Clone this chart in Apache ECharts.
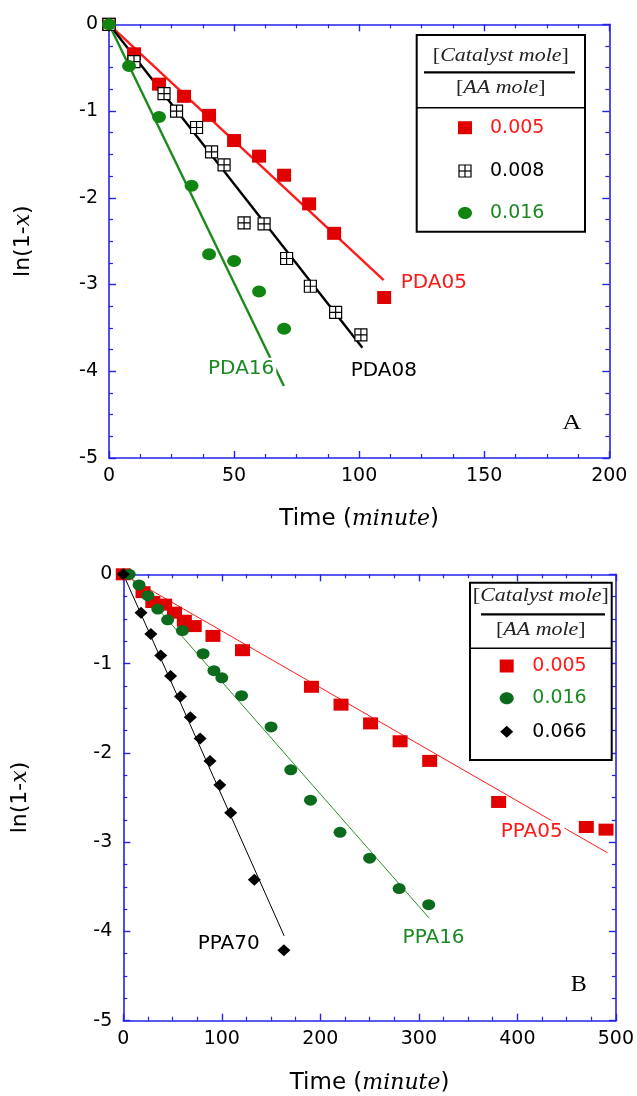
<!DOCTYPE html>
<html>
<head>
<meta charset="utf-8">
<script src="https://cdn.jsdelivr.net/npm/echarts@6/dist/echarts.min.js"></script>
<style>
  html, body { margin: 0; padding: 0; background: #ffffff; }
  #chart { width: 637px; height: 1096px; }
</style>
</head>
<body>
<div id="chart"></div>
<script>
// ---------- Panel A: poly(DA) runs, ln(1-x) against time (min) ----------
const timeA05 = [0, 10, 20, 30, 40, 50, 60, 70, 80, 90, 110];
const lnA05   = [0, -0.34, -0.69, -0.83, -1.05, -1.34, -1.52, -1.74, -2.07, -2.41, -3.15];
const timeA08 = [0, 10, 22, 27, 35, 41, 46, 54, 62, 71, 80.5, 90.6, 100.7];
const lnA08   = [0, -0.43, -0.80, -1.00, -1.19, -1.47, -1.62, -2.29, -2.30, -2.70, -3.02, -3.32, -3.58];
const timeA16 = [0, 8, 20, 33, 40, 50, 60, 70];
const lnA16   = [0, -0.48, -1.07, -1.86, -2.65, -2.73, -3.08, -3.51];
// first-order fit lines: [start, end]
const fitA05 = [[0, 0], [109.8, -2.95]];
const fitA08 = [[0, 0], [101.3, -3.73]];
const fitA16 = [[0, 0], [69.9, -4.17]];
const tagsA  = ['PDA05', 'PDA08', 'PDA16'];
const tagPosA = [[115.8, -2.98], [95.8, -3.99], [38.8, -3.97]];

// ---------- Panel B: poly(PA) runs ----------
const timeB05 = [0, 20, 30, 42, 52, 62, 72, 91, 121, 191, 221, 251, 281, 311, 381, 470, 490];
const lnB05   = [0, -0.20, -0.31, -0.34, -0.43, -0.52, -0.58, -0.69, -0.85, -1.26, -1.46, -1.67, -1.87, -2.09, -2.55, -2.83, -2.86];
const timeB16 = [6, 16, 25, 35, 45, 60, 81, 92, 100, 120, 150, 170, 190, 220, 250, 280, 310];
const lnB16   = [0, -0.12, -0.24, -0.39, -0.51, -0.63, -0.89, -1.08, -1.16, -1.36, -1.71, -2.19, -2.53, -2.89, -3.18, -3.52, -3.70];
const timeB66 = [0, 18, 28, 38, 48, 58, 68, 78, 88, 98, 109, 133, 163];
const lnB66   = [0, -0.43, -0.67, -0.91, -1.14, -1.37, -1.60, -1.84, -2.09, -2.36, -2.67, -3.42, -4.21];
const fitB05 = [[0, 0], [491.6, -3.12]];
const fitB16 = [[4.4, 0], [310.4, -3.85]];
const fitB66 = [[0, 0], [163.3, -4.05]];
const tagsB  = ['PPA05', 'PPA16', 'PPA70'];
const tagPosB = [[381, -2.88], [281.5, -4.07], [73.5, -4.14]];

// legend entries
const ratiosA = ['0.005', '0.008', '0.016'];
const ratiosB = ['0.005', '0.016', '0.066'];

// axis ticks
const yTicks = { min: -5, max: 0, interval: 1 };
const xTicksA = { min: 0, max: 200, interval: 50 };
const xTicksB = { min: 0, max: 500, interval: 100 };

const RED = '#e00000', RED_LINE = '#ff1a1a', RED_TEXT = '#ff1a1a';
const GREEN_A = '#128412', GREEN_LINE_A = '#1b8a1b';
const GREEN_B = '#0b6a1c', GREEN_LINE_B = '#2a8c2a', GREEN_TEXT = '#1a8a22';
const AXIS = '#2323e8';
const INK = '#000000';
const SANS = 'DejaVu Sans';
const SERIF = 'Liberation Serif';

const zip = (xs, ys) => xs.map((x, i) => [x, ys[i]]);

const ELLIPSE = 'path://M0 1A1 1 0 1 0 2 1A1 1 0 1 0 0 1Z';
const GRIDBOX = 'path://M0 0H12V12H0Z M6 0V12 M0 6H12';
const DIAMOND = 'path://M6 0L12 5.5L6 11L0 5.5Z';

function axisBase(g, t) {
  return {
    type: 'value', gridIndex: g, min: t.min, max: t.max, interval: t.interval,
    axisLine: { show: true, onZero: false, lineStyle: { color: AXIS, width: 1.6 } },
    axisTick: { show: true, inside: true, length: 7, lineStyle: { color: AXIS, width: 1.4 } },
    minorTick: { show: true, splitNumber: 4, length: 4, lineStyle: { color: AXIS, width: 1.2 } },
    splitLine: { show: false }, minorSplitLine: { show: false }
  };
}

function xAxisPair(g, t, gap) {
  return [
    Object.assign(axisBase(g, t), {
      position: 'bottom',
      axisLabel: { show: true, color: INK, fontFamily: SANS, fontSize: 19, margin: 9 },
      name: '{a|Time (}{b|minute}{a|)}',
      nameLocation: 'middle', nameGap: gap,
      nameTextStyle: {
        rich: {
          a: { fontFamily: SANS, fontSize: 23, color: INK },
          b: { fontFamily: 'DejaVu Serif', fontStyle: 'italic', fontSize: 22, color: INK }
        }
      }
    }),
    Object.assign(axisBase(g, t), { position: 'top', axisLabel: { show: false } })
  ];
}

function yAxisPair(g, gap) {
  return [
    Object.assign(axisBase(g, yTicks), {
      position: 'left',
      axisLabel: { show: true, color: INK, fontFamily: SANS, fontSize: 19, margin: 11 },
      name: '{a|ln(1-}{b|x}{a|)}',
      nameLocation: 'middle', nameGap: gap,
      nameTextStyle: {
        rich: {
          a: { fontFamily: SANS, fontSize: 22, color: INK },
          b: { fontFamily: 'DejaVu Serif', fontStyle: 'italic', fontSize: 22, color: INK }
        }
      }
    }),
    Object.assign(axisBase(g, yTicks), { position: 'right', axisLabel: { show: false } })
  ];
}

function fitLine(idx, data, color, width) {
  return {
    type: 'line', xAxisIndex: idx, yAxisIndex: idx, data: data,
    symbol: 'none', silent: true, z: 2,
    lineStyle: { color: color, width: width, opacity: 1 }
  };
}

function points(idx, xs, ys, symbol, size, style, z) {
  return {
    type: 'scatter', xAxisIndex: idx, yAxisIndex: idx, data: zip(xs, ys),
    symbol: symbol, symbolSize: size, itemStyle: Object.assign({ opacity: 1 }, style), z: z, silent: true
  };
}

function tags(idx, names, pos, colors) {
  return {
    type: 'scatter', xAxisIndex: idx, yAxisIndex: idx, symbolSize: 0, z: 5, silent: true,
    itemStyle: { opacity: 1 },
    data: names.map((n, i) => ({ name: n, value: pos[i], label: { color: colors[i] } })),
    label: {
      show: true, position: 'right', distance: 0, formatter: '{b}', opacity: 1,
      fontFamily: SANS, fontSize: 20, backgroundColor: '#ffffff', padding: [1, 2]
    }
  };
}

// legend box with a fraction header
function legendBox(box, rows) {
  const els = [];
  els.push({ type: 'rect', shape: { x: box.x, y: box.y, width: box.w, height: box.h },
    style: { fill: '#ffffff', stroke: '#000', lineWidth: 2 }, z: 10 });
  const cx = box.x + box.w / 2;
  const headRich = {
    b: { fontFamily: SERIF, fontSize: 18, fill: '#222' },
    i: { fontFamily: SERIF, fontStyle: 'italic', fontSize: 18, fill: '#222' }
  };
  els.push({ type: 'text', x: cx, y: box.num, scaleX: 1.22, z: 11,
    style: { text: '{b|[}{i|Catalyst mole}{b|]}', rich: headRich, align: 'center', verticalAlign: 'middle' } });
  els.push({ type: 'line', z: 11, shape: { x1: box.barX1, y1: box.bar, x2: box.barX2, y2: box.bar },
    style: { stroke: '#000', lineWidth: 2.2 } });
  els.push({ type: 'text', x: cx, y: box.den, scaleX: 1.22, z: 11,
    style: { text: '{b|[}{i|AA mole}{b|]}', rich: headRich, align: 'center', verticalAlign: 'middle' } });
  els.push({ type: 'line', z: 11, shape: { x1: box.x, y1: box.sep, x2: box.x + box.w, y2: box.sep },
    style: { stroke: '#000', lineWidth: 1.6 } });
  rows.forEach((r) => {
    const mx = box.mx, my = r.y;
    if (r.kind === 'square') {
      els.push({ type: 'rect', z: 11, shape: { x: mx - 7, y: my - 6.5, width: 14, height: 13 }, style: { fill: RED } });
    } else if (r.kind === 'grid') {
      els.push({ type: 'rect', z: 11, shape: { x: mx - 6, y: my - 6, width: 12, height: 12 },
        style: { fill: '#fff', stroke: '#000', lineWidth: 1.2 } });
      els.push({ type: 'line', z: 11, shape: { x1: mx, y1: my - 6, x2: mx, y2: my + 6 }, style: { stroke: '#000', lineWidth: 1.2 } });
      els.push({ type: 'line', z: 11, shape: { x1: mx - 6, y1: my, x2: mx + 6, y2: my }, style: { stroke: '#000', lineWidth: 1.2 } });
    } else if (r.kind === 'circle') {
      els.push({ type: 'ellipse', z: 11, shape: { cx: mx, cy: my, rx: 7, ry: 6 }, style: { fill: r.fill } });
    } else if (r.kind === 'diamond') {
      els.push({ type: 'polygon', z: 11, shape: { points: [[mx, my - 6], [mx + 6.5, my], [mx, my + 6], [mx - 6.5, my]] },
        style: { fill: '#000' } });
    }
    els.push({ type: 'text', x: box.tx, y: my, z: 11,
      style: { text: r.text, fill: r.color, fontFamily: SANS, fontSize: 19, align: 'left', verticalAlign: 'middle' } });
  });
  return els;
}

const chart = echarts.init(document.getElementById('chart'), null, { renderer: 'canvas' });

const xA = xAxisPair(0, xTicksA, 50);
const xB = xAxisPair(1, xTicksB, 51);
const yA = yAxisPair(0, 75);
const yB = yAxisPair(1, 92);

const option = {
  backgroundColor: '#ffffff',
  animation: false,
  grid: [
    { left: 109, top: 24.3, width: 500.3, height: 433.7, containLabel: false },
    { left: 123.3, top: 574.3, width: 492.7, height: 446.4, containLabel: false }
  ],
  // axes 0/2: panel A (bottom/top, left/right); axes 1/3: panel B
  xAxis: [xA[0], xB[0], xA[1], xB[1]],
  yAxis: [yA[0], yB[0], yA[1], yB[1]],
  series: [
    // panel A
    fitLine(0, fitA05, RED_LINE, 2.4),
    fitLine(0, fitA08, '#000', 2.4),
    fitLine(0, fitA16, GREEN_LINE_A, 2.4),
    points(0, timeA05, lnA05, 'rect', [14, 13], { color: RED }, 3),
    points(0, timeA08, lnA08, GRIDBOX, [12, 12], { color: '#fff', borderColor: '#000', borderWidth: 1.2 }, 3),
    points(0, timeA16, lnA16, ELLIPSE, [14, 12], { color: GREEN_A }, 4),
    tags(0, tagsA, tagPosA, [RED_TEXT, '#000', GREEN_TEXT]),
    // panel B
    fitLine(1, fitB05, RED_LINE, 1),
    fitLine(1, fitB16, GREEN_LINE_B, 1),
    fitLine(1, fitB66, '#000', 1),
    points(1, timeB05, lnB05, 'rect', [15, 12], { color: RED }, 3),
    points(1, timeB16, lnB16, ELLIPSE, [13, 11], { color: GREEN_B }, 4),
    points(1, timeB66, lnB66, DIAMOND, [13, 12], { color: '#000' }, 4),
    tags(1, tagsB, tagPosB, [RED_TEXT, GREEN_TEXT, '#000'])
  ],
  graphic: [].concat(
    legendBox({ x: 416.7, y: 35, w: 168.3, h: 196.7, num: 56, den: 88, bar: 72.3, barX1: 424, barX2: 575,
                sep: 107.7, mx: 465, tx: 490 },
      [{ kind: 'square', y: 127.7, text: ratiosA[0], color: RED_TEXT },
       { kind: 'grid', y: 171, text: ratiosA[1], color: '#000' },
       { kind: 'circle', y: 213, text: ratiosA[2], color: GREEN_TEXT, fill: GREEN_A }]),
    legendBox({ x: 470, y: 582.7, w: 141.7, h: 177.3, num: 596.7, den: 630.7, bar: 614.3, barX1: 481, barX2: 605,
                sep: 648.3, mx: 506.7, tx: 532.3 },
      [{ kind: 'square', y: 666, text: ratiosB[0], color: RED_TEXT },
       { kind: 'circle', y: 698.3, text: ratiosB[1], color: GREEN_TEXT, fill: GREEN_B },
       { kind: 'diamond', y: 731.7, text: ratiosB[2], color: '#000' }]),
    [
      { type: 'text', x: 571.7, y: 423.7, scaleX: 1.2, z: 11,
        style: { text: 'A', fontFamily: SERIF, fontSize: 22, fill: '#000', align: 'center', verticalAlign: 'middle' } },
      { type: 'text', x: 578.7, y: 985, z: 11,
        style: { text: 'B', fontFamily: SERIF, fontSize: 24, fill: '#000', align: 'center', verticalAlign: 'middle' } }
    ]
  )
};

// top/right mirror axes share the grid of their panel
option.xAxis[2].gridIndex = 0; option.xAxis[3].gridIndex = 1;
option.yAxis[2].gridIndex = 0; option.yAxis[3].gridIndex = 1;

chart.setOption(option);
</script>
</body>
</html>
